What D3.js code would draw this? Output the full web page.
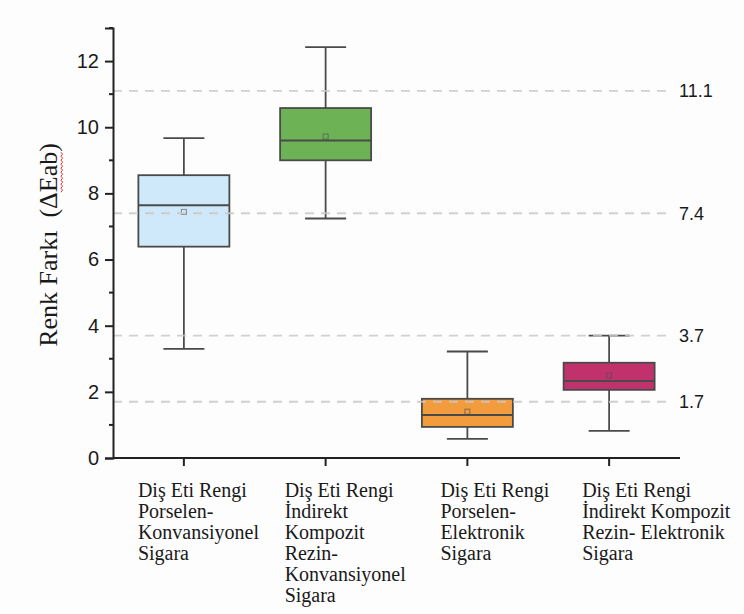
<!DOCTYPE html>
<meta charset="utf-8">
<script src="https://d3js.org/d3.v7.min.js"></script>
<div id="chart"></div>
<script>

// groups and box statistics
var groups = ["g1", "g2", "g3", "g4"];
var labels = [
  ["Diş Eti Rengi", "Porselen-", "Konvansiyonel", "Sigara"],
  ["Diş Eti Rengi", "İndirekt", "Kompozit", "Rezin-", "Konvansiyonel", "Sigara"],
  ["Diş Eti Rengi", "Porselen-", "Elektronik", "Sigara"],
  ["Diş Eti Rengi", "İndirekt Kompozit", "Rezin- Elektronik", "Sigara"]
];
var whiskerLow = [3.30, 7.24, 0.58, 0.82];
var q1 = [6.39, 9.00, 0.94, 2.06];
var median = [7.64, 9.60, 1.30, 2.33];
var q3 = [8.55, 10.58, 1.79, 2.88];
var whiskerHigh = [9.67, 12.42, 3.22, 3.70];
var means = [7.44, 9.72, 1.40, 2.50];
var fills = ["#cfe9fa", "#6db356", "#f39c3d", "#c1326d"];

var refValues = [11.1, 7.4, 3.7, 1.7];
var yTicks = [0, 2, 4, 6, 8, 10, 12];
var yMinor = [1, 3, 5, 7, 9, 11, 13];

var width = 744, height = 614;
var margin = {top: 28, right: 64, bottom: 156, left: 113};
var sans = "Liberation Sans, Arial, sans-serif";
var serif = "Liberation Serif, Times New Roman, serif";

d3.select("body").style("margin", 0).style("background", "#fdfdfd");

var svg = d3.select("#chart").append("svg")
  .attr("width", width)
  .attr("height", height);

var x = d3.scaleBand()
  .domain(groups)
  .range([margin.left, width - margin.right]);

var y = d3.scaleLinear()
  .domain([0, 13])
  .range([height - margin.bottom, margin.top]);

var boxW = 91, capW = 41;
var stroke = "#4a4a4a";

// boxes
var g = svg.append("g");
groups.forEach(function(d, i) {
  var cx = x(d) + x.bandwidth() / 2;
  g.append("line")
    .attr("x1", cx).attr("x2", cx)
    .attr("y1", y(whiskerLow[i])).attr("y2", y(whiskerHigh[i]))
    .attr("stroke", stroke).attr("stroke-width", 1.8);
  [whiskerLow[i], whiskerHigh[i]].forEach(function(v) {
    g.append("line")
      .attr("x1", cx - capW / 2).attr("x2", cx + capW / 2)
      .attr("y1", y(v)).attr("y2", y(v))
      .attr("stroke", stroke).attr("stroke-width", 1.8);
  });
  g.append("rect")
    .attr("x", cx - boxW / 2)
    .attr("y", y(q3[i]))
    .attr("width", boxW)
    .attr("height", y(q1[i]) - y(q3[i]))
    .attr("fill", fills[i])
    .attr("stroke", stroke).attr("stroke-width", 1.8);
  g.append("line")
    .attr("x1", cx - boxW / 2).attr("x2", cx + boxW / 2)
    .attr("y1", y(median[i])).attr("y2", y(median[i]))
    .attr("stroke", stroke).attr("stroke-width", 2);
  g.append("rect")
    .attr("x", cx - 2.5).attr("y", y(means[i]) - 2.5)
    .attr("width", 5).attr("height", 5)
    .attr("fill", "none")
    .attr("stroke", stroke).attr("stroke-opacity", 0.6).attr("stroke-width", 1);
});

// dashed reference lines
svg.append("g").selectAll("line")
  .data(refValues)
  .enter().append("line")
    .attr("x1", margin.left)
    .attr("x2", 670)
    .attr("y1", function(d) { return y(d); })
    .attr("y2", function(d) { return y(d); })
    .attr("stroke", "#c8c8c8")
    .attr("stroke-opacity", 0.85)
    .attr("stroke-width", 1.8)
    .attr("stroke-dasharray", "9,7");

svg.append("g").selectAll("text")
  .data(refValues)
  .enter().append("text")
    .attr("x", 679)
    .attr("y", function(d) { return y(d); })
    .attr("dy", "0.36em")
    .attr("font-family", sans)
    .attr("font-size", 18)
    .attr("fill", "#1a1a1a")
    .text(function(d) { return d.toFixed(1); });

// y axis
var yAxis = svg.append("g")
  .attr("transform", "translate(" + margin.left + ",0)")
  .call(d3.axisLeft(y).tickValues(yTicks).tickSize(8).tickPadding(6));
yAxis.select(".domain").attr("stroke", "#222").attr("stroke-width", 2);
yAxis.selectAll(".tick line").attr("stroke", "#222").attr("stroke-width", 2);
yAxis.attr("font-family", sans).attr("font-size", 20);
yAxis.selectAll(".tick text").attr("fill", "#1a1a1a");

svg.append("g").selectAll("line")
  .data(yMinor)
  .enter().append("line")
    .attr("x1", margin.left - 4).attr("x2", margin.left)
    .attr("y1", function(d) { return y(d); })
    .attr("y2", function(d) { return y(d); })
    .attr("stroke", "#222").attr("stroke-width", 2);

// x axis
var xAxis = svg.append("g")
  .attr("transform", "translate(0," + y(0) + ")")
  .call(d3.axisBottom(x).tickSize(8).tickFormat(""));
xAxis.select(".domain").attr("stroke", "#222").attr("stroke-width", 2)
  .attr("d", "M" + margin.left + ",0H" + (width - margin.right));
xAxis.selectAll(".tick line").attr("stroke", "#222").attr("stroke-width", 2);

// category labels, left aligned
var labelShift = [-46, -41, -27, -27];
var xl = svg.append("g")
  .attr("font-family", serif)
  .attr("font-size", 20)
  .attr("fill", "#1a1a1a");
groups.forEach(function(d, i) {
  var cx = x(d) + x.bandwidth() / 2;
  labels[i].forEach(function(line, j) {
    xl.append("text")
      .attr("x", cx + labelShift[i])
      .attr("y", 497 + j * 21)
      .attr("font-family", serif)
      .text(line);
  });
});

// y label
var yl = svg.append("text")
  .attr("transform", "translate(57,245) rotate(-90)")
  .attr("text-anchor", "middle")
  .attr("font-family", serif)
  .attr("font-size", 26)
  .attr("fill", "#1a1a1a")
  .style("white-space", "pre")
  .text("Renk Farkı  (ΔEab)");

// red spell-check squiggle under "Eab"
var node = yl.node();
var full = node.getComputedTextLength();
var start = node.getSubStringLength(0, 14) - full / 2;
var len = node.getSubStringLength(14, 3);
var pts = [];
for (var k = 0; k <= Math.round(len / 2); k++) {
  pts.push([start + k * 2, 4 + (k % 2 ? 1.5 : 0)]);
}
svg.append("path")
  .attr("transform", "translate(57,245) rotate(-90)")
  .attr("d", d3.line()(pts))
  .attr("fill", "none")
  .attr("stroke", "#e03030")
  .attr("stroke-width", 1);

</script>
